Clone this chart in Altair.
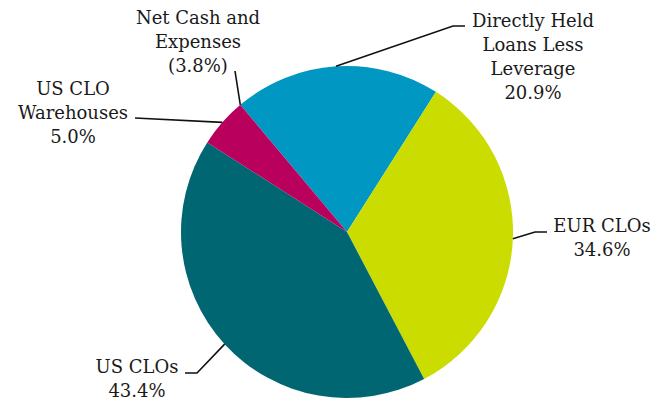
import math
import pandas as pd
import altair as alt

# ---- data ----
categories = ["Directly Held Loans Less Leverage", "EUR CLOs", "US CLOs",
              "US CLO Warehouses", "Net Cash and Expenses"]
values = [20.9, 34.6, 43.4, 5.0, -3.8]
name_lines = [["Directly Held", "Loans Less", "Leverage"], ["EUR CLOs"], ["US CLOs"],
              ["US CLO", "Warehouses"], ["Net Cash and", "Expenses"]]
colors = ["#0098C3", "#CADC00", "#006672", "#B8005C"]

# ---- layout (annotation positions) ----
W, H = 669, 404
CX, CY, R = 347, 232, 166
START_DEG = 320
label_anchor = {   # text center x, first baseline y
    categories[0]: (533, 27),
    categories[1]: (602, 232),
    categories[2]: (137, 373),
    categories[3]: (73, 95),
    categories[4]: (198, 24),
}
leader_bends = {   # intermediate / end points of leader lines
    categories[0]: [(453, 26), (465, 26)],
    categories[1]: [(535, 232), (547, 232)],
    categories[2]: [(197, 373), (185, 373)],
    categories[3]: [(135, 118)],
    categories[4]: [(235, 71)],
}


def pct(v):
    return f"{v:.1f}%" if v >= 0 else f"({abs(v):.1f}%)"


pie_df = pd.DataFrame({
    "category": [c for c, v in zip(categories, values) if v > 0],
    "value": [v for v in values if v > 0],
})
pie_df["seq"] = range(len(pie_df))

total = sum(v for v in values if v > 0)
start = math.radians(START_DEG)
cum = 0.0
line_rows, text_rows = [], []
for cat, v, nl in zip(categories, values, name_lines):
    if v > 0:
        a = start + 2 * math.pi * (cum + v / 2) / total
        cum += v
    else:
        a = start
    pts = [(CX + R * math.sin(a), CY - R * math.cos(a))] + leader_bends[cat]
    for i, (px, py) in enumerate(pts):
        line_rows.append({"category": cat, "seq": i, "x": px, "y": py})
    tx, ty = label_anchor[cat]
    text_rows.append({"category": cat, "x": tx, "y": ty,
                      "label": "\n".join(nl + [pct(v)])})

lines_df = pd.DataFrame(line_rows)
text_df = pd.DataFrame(text_rows)

xs = alt.Scale(domain=[0, W], range=[0, W])
ys = alt.Scale(domain=[0, H], range=[0, H])

pie = alt.Chart(pie_df).mark_arc(outerRadius=R).encode(
    theta=alt.Theta("value:Q", stack=True,
                    scale=alt.Scale(range=[start, start + 2 * math.pi])),
    order=alt.Order("seq:Q"),
    color=alt.Color("category:N", scale=alt.Scale(domain=categories[:4], range=colors),
                    legend=None),
    x=alt.value(CX),
    y=alt.value(CY),
)

leaders = alt.Chart(lines_df).mark_line(color="#111111", strokeWidth=1.6).encode(
    x=alt.X("x:Q", scale=xs, axis=None),
    y=alt.Y("y:Q", scale=ys, axis=None),
    detail="category:N",
    order="seq:Q",
)

labels = alt.Chart(text_df).mark_text(
    align="center", baseline="alphabetic", font="DejaVu Serif",
    fontSize=18, lineHeight=24, lineBreak="\n", color="#1a1a1a",
).encode(
    x=alt.X("x:Q", scale=xs, axis=None),
    y=alt.Y("y:Q", scale=ys, axis=None),
    text="label:N",
)

chart = alt.layer(pie, leaders, labels).properties(
    width=W, height=H, padding=0, autosize=alt.AutoSizeParams(type="none"),
    background="white",
).configure_view(stroke=None)

chart.save("out.html", embed_options={"renderer": "svg", "actions": False})
